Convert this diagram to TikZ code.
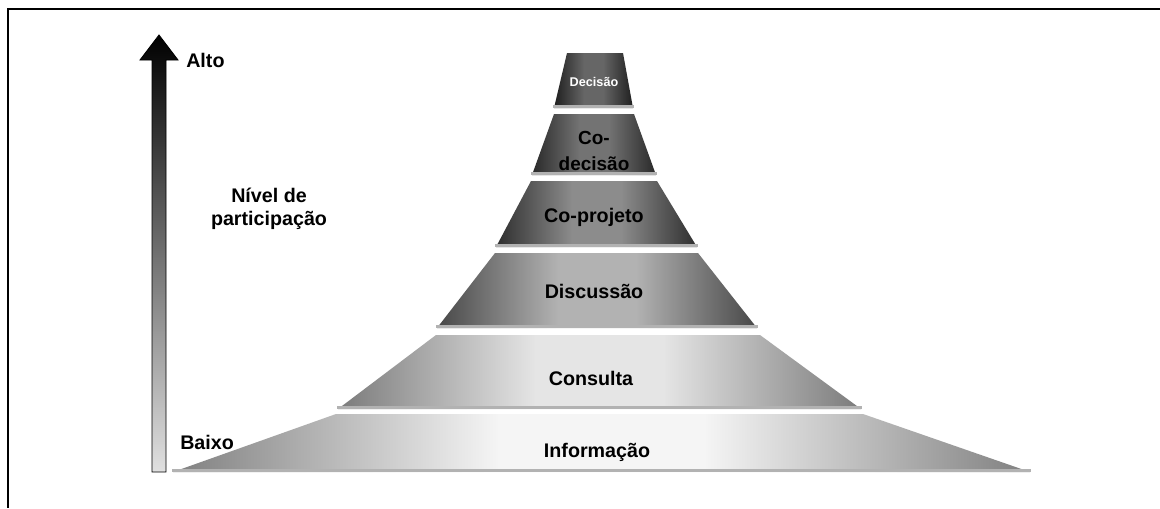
\documentclass[tikz,border=0pt]{standalone}
\usepackage{fontspec}
\setmainfont{Liberation Sans}
\pgfdeclarehorizontalshading[edgec,midc]{layshade}{100bp}{color(0bp)=(edgec); color(25bp)=(edgec); color(44bp)=(midc); color(56bp)=(midc); color(75bp)=(edgec); color(100bp)=(edgec)}
\begin{document}
\begin{tikzpicture}[x=0.025cm,y=-0.025cm,
  lbl/.style={font=\fontsize{14}{16}\selectfont\bfseries, align=center, inner sep=0pt}]
\useasboundingbox (0,0) rectangle (1160,508);
\fill[white] (0,0) rectangle (1160,508);
% frame
\draw[line width=1.5pt] (1160,9) -- (8,9) -- (8,508);
% layers: \lay{ytop}{ybot}{xtl}{xtr}{xbl}{xbr}{edge}{mid}
\newcommand\lay[8]{%
  \colorlet{edgec}{black!#7}\colorlet{midc}{black!#8}%
  \shade[shading=layshade]
    (#3,#1) -- (#4,#1) -- (#6,#2) -- (#5,#2) -- cycle;
  \fill[black!30] (#5-1,#2-3) rectangle (#6+1,#2);
}
\lay{414}{472}{336}{863}{173}{1030}{50}{4}
\lay{335}{409}{436}{760}{338}{861}{52}{10}
\lay{253}{328}{495}{698}{437}{757}{72}{30}
\lay{181}{247}{531}{657}{496}{697}{82}{45}
\lay{114}{175}{554}{634}{532}{656}{84}{55}
\lay{53}{108}{567}{623}{554}{633}{88}{60}
% arrow
\shade[top color=black, bottom color=black!12, draw=black, line width=0.6pt]
  (152,472) -- (152,60) -- (140,60) -- (159,35) -- (178,60) -- (166,60) -- (166,472) -- cycle;
% labels
\node[lbl, anchor=west] (alto) at (186,60) {Alto};
\node[lbl] (nivel) at (269,209) {Nível de\\participação};
\node[lbl, anchor=west] (baixo) at (180,442) {Baixo};
\node[lbl, font=\fontsize{9}{10}\selectfont\bfseries, text=white] (dec) at (594,82) {Decisão};
\node[lbl, font=\fontsize{13.5}{19}\selectfont\bfseries] (codec) at (594,151) {Co-\\decisão};
\node[lbl] (coproj) at (594,217) {Co-projeto};
\node[lbl] (disc) at (594,291) {Discussão};
\node[lbl] (cons) at (591,378) {Consulta};
\node[lbl] (info) at (597,452) {Informação};
\end{tikzpicture}
\end{document}
